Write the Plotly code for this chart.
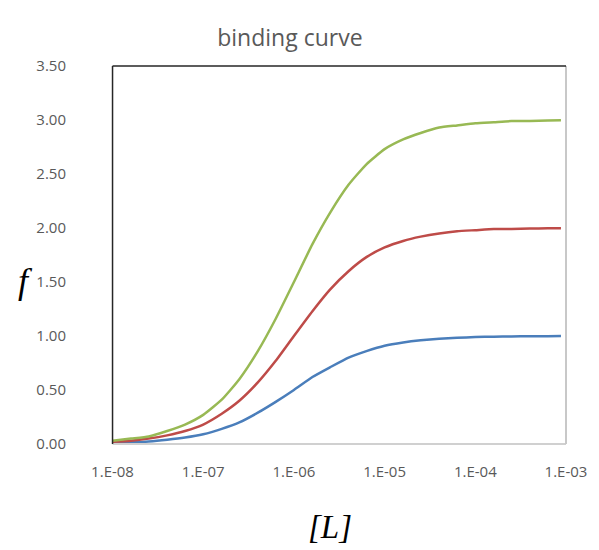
import plotly.graph_objects as go

# Ligand concentration [L] (M)
L = [1e-8, 1.6e-8, 2.5e-8, 4e-8, 6.3e-8, 1e-7, 1.6e-7, 2.5e-7, 4e-7, 6.3e-7,
     1e-6, 1.6e-6, 2.5e-6, 4e-6, 6.3e-6, 1e-5, 1.6e-5, 2.5e-5, 4e-5, 6.3e-5,
     1e-4, 1.6e-4, 2.5e-4, 4e-4, 6.3e-4, 8.8e-4]

# fraction bound f for three series
f_blue = [0.01, 0.016, 0.024, 0.04, 0.06, 0.09, 0.14, 0.20, 0.29, 0.39,
          0.50, 0.62, 0.71, 0.80, 0.86, 0.91, 0.94, 0.96, 0.975, 0.984,
          0.99, 0.994, 0.996, 0.998, 0.998, 0.999]
f_red = [0.02, 0.03, 0.05, 0.08, 0.12, 0.18, 0.28, 0.40, 0.57, 0.77,
         1.00, 1.23, 1.43, 1.60, 1.73, 1.82, 1.88, 1.92, 1.95, 1.97,
         1.98, 1.99, 1.99, 1.995, 1.997, 1.998]
f_green = [0.03, 0.05, 0.07, 0.12, 0.18, 0.27, 0.41, 0.60, 0.86, 1.16,
           1.50, 1.85, 2.14, 2.40, 2.59, 2.73, 2.82, 2.88, 2.93, 2.95,
           2.97, 2.98, 2.99, 2.99, 2.995, 2.997]

y_ticks = [0, 0.5, 1.0, 1.5, 2.0, 2.5, 3.0, 3.5]
x_tickvals = [1e-8, 1e-7, 1e-6, 1e-5, 1e-4, 1e-3]
x_ticklabels = ["1.E-08", "1.E-07", "1.E-06", "1.E-05", "1.E-04", "1.E-03"]

fig = go.Figure()
for ys, col in [(f_blue, "#4a7ebb"), (f_red, "#be4b48"), (f_green, "#98b954")]:
    fig.add_trace(go.Scatter(x=L, y=ys, mode="lines",
                             line=dict(color=col, width=2.5, shape="spline", smoothing=0.5),
                             showlegend=False))

tickfont = dict(family="Open Sans, Noto Sans, sans-serif", size=15, color="#595959")

W, H = 599, 550
ML, MR = 66, 28
plot_left = 113
dom0 = (plot_left - ML) / (W - ML - MR)

fig.update_layout(
    width=W, height=H,
    margin=dict(l=ML, r=MR, t=66, b=106),
    paper_bgcolor="white", plot_bgcolor="white",
    title=dict(text="binding curve", x=0.484, xanchor="center", xref="container",
               y=0.931, yref="container", yanchor="middle",
               font=dict(family="Open Sans, Noto Sans, sans-serif", size=23, color="#595959")),
    xaxis=dict(type="log", range=[-8, -3], tickvals=x_tickvals, ticktext=x_ticklabels,
               domain=[dom0, 1],
               showgrid=False, zeroline=False, showline=False,
               ticks="outside", ticklen=14, tickcolor="rgba(0,0,0,0)",
               tickfont=tickfont),
    yaxis=dict(range=[0, 3.5], tickvals=y_ticks, tickformat=".2f",
               anchor="free", position=0, ticklabelposition="outside right",
               showgrid=False, zeroline=False, showline=False, ticks="",
               tickfont=tickfont),
    shapes=[
        dict(type="line", xref="x domain", yref="y domain", x0=0, x1=1, y0=0, y1=0,
             line=dict(color="#d0d0d0", width=2)),
        dict(type="line", xref="x domain", yref="y domain", x0=1, x1=1, y0=0, y1=1,
             line=dict(color="#c8c8c8", width=2)),
        dict(type="line", xref="x domain", yref="y domain", x0=0, x1=1, y0=1, y1=1,
             line=dict(color="#262626", width=1.5)),
        dict(type="line", xref="x domain", yref="y domain", x0=0, x1=0, y0=0, y1=1,
             line=dict(color="#262626", width=1.5)),
    ],
    annotations=[
        dict(text="<i>f</i>", xref="x domain", yref="y domain", x=-0.192, y=0.43,
             xanchor="center", yanchor="middle", showarrow=False,
             font=dict(family="Liberation Serif, DejaVu Serif, serif", size=36, color="#000000")),
        dict(text="<i>[L]</i>", xref="x domain", yref="y domain", x=0.48, y=-0.22,
             xanchor="center", yanchor="middle", showarrow=False,
             font=dict(family="Liberation Serif, DejaVu Serif, serif", size=33, color="#000000")),
    ],
)

fig.write_html("out.html")
